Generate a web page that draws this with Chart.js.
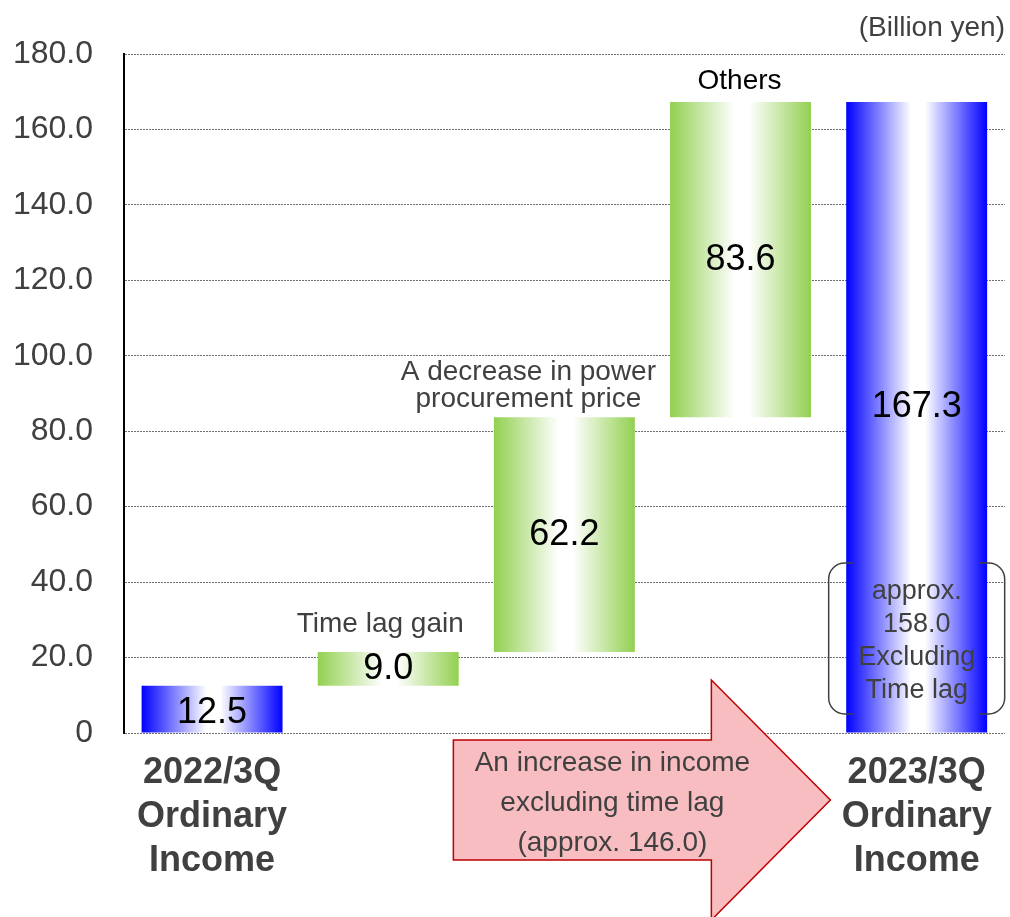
<!DOCTYPE html>
<html>
<head>
<meta charset="utf-8">
<script src="https://cdn.jsdelivr.net/npm/chart.js@4.4.1/dist/chart.umd.min.js"></script>
<style>
  html, body { margin: 0; padding: 0; background: #fff; }
</style>
</head>
<body>
<canvas id="myChart" width="1010" height="917"></canvas>
<script>
const categories = [["2022/3Q", "Ordinary", "Income"], "", "", "", ["2023/3Q", "Ordinary", "Income"]];
const barStarts = [0, 12.5, 21.5, 83.7, 0];
const barEnds = [12.5, 21.5, 83.7, 167.3, 167.3];
const valueLabels = ["12.5", "9.0", "62.2", "83.6", "167.3"];
const barKinds = ["total", "step", "step", "step", "total"];
const stepNotes = [[], ["Time lag gain"], ["A decrease in power", "procurement price"], ["Others"], []];
const bracketLines = ["approx.", "158.0", "Excluding", "Time lag"];
const arrowLines = ["An increase in income", "excluding time lag", "(approx. 146.0)"];
const unitLabel = "(Billion yen)";

const FONT = '"Liberation Sans", Arial, sans-serif';
const TEXT_GREY = "#404040";

function barFill(context) {
  const chart = context.chart;
  const xScale = chart.scales.x;
  const i = context.dataIndex;
  const edge = barKinds[i] === "total" ? "#0000ff" : "#92d050";
  if (!xScale || i === undefined || !chart.chartArea) return edge;
  const cx = xScale.getPixelForValue(i);
  const half = xScale.width / categories.length * 0.8 / 2;
  if (!isFinite(cx) || !isFinite(half)) return edge;
  const g = chart.ctx.createLinearGradient(cx - half, 0, cx + half, 0);
  g.addColorStop(0, edge);
  g.addColorStop(0.46, "#ffffff");
  g.addColorStop(0.56, "#ffffff");
  g.addColorStop(1, edge);
  return g;
}

function drawLines(ctx, lines, x, y0, gap) {
  lines.forEach((t, k) => ctx.fillText(t, x, y0 + k * gap));
}

const extras = {
  id: "extras",
  afterDatasetsDraw(chart) {
    const ctx = chart.ctx;
    const xs = chart.scales.x, ys = chart.scales.y;
    const area = chart.chartArea;
    ctx.save();
    ctx.textAlign = "center";
    ctx.textBaseline = "middle";

    // values inside bars
    ctx.font = "36px " + FONT;
    ctx.fillStyle = "#000";
    valueLabels.forEach((t, i) => {
      let yc = (ys.getPixelForValue(barStarts[i]) + ys.getPixelForValue(barEnds[i])) / 2;
      if (i === 0) yc += 4;
      if (i === 4) yc -= 10;
      ctx.fillText(t, xs.getPixelForValue(i), yc);
    });

    // notes above step bars
    ctx.font = "28px " + FONT;
    const top1 = ys.getPixelForValue(barEnds[1]);
    ctx.fillStyle = TEXT_GREY;
    drawLines(ctx, stepNotes[1], xs.getPixelForValue(1) - 8, top1 - 28, 27);
    const top2 = ys.getPixelForValue(barEnds[2]);
    drawLines(ctx, stepNotes[2], xs.getPixelForValue(2) - 36, top2 - 45, 27);
    const top3 = ys.getPixelForValue(barEnds[3]);
    ctx.fillStyle = "#000";
    drawLines(ctx, stepNotes[3], xs.getPixelForValue(3) - 1, top3 - 21, 27);

    // unit
    ctx.fillStyle = TEXT_GREY;
    ctx.textAlign = "right";
    ctx.fillText(unitLabel, 1005, 28);
    ctx.textAlign = "center";

    // bracket around last bar
    const bx = xs.getPixelForValue(4);
    const zero = ys.getPixelForValue(0);
    const bTop = zero - 170, bBot = zero - 19, r = 16;
    ctx.strokeStyle = TEXT_GREY;
    ctx.lineWidth = 1.5;
    ctx.beginPath();
    ctx.moveTo(bx - 63, bTop);
    ctx.arcTo(bx - 88, bTop, bx - 88, bTop + r, r);
    ctx.arcTo(bx - 88, bBot, bx - 63, bBot, r);
    ctx.lineTo(bx - 63, bBot);
    ctx.moveTo(bx + 63, bTop);
    ctx.arcTo(bx + 88, bTop, bx + 88, bTop + r, r);
    ctx.arcTo(bx + 88, bBot, bx + 63, bBot, r);
    ctx.lineTo(bx + 63, bBot);
    ctx.stroke();
    ctx.font = "27px " + FONT;
    ctx.fillStyle = TEXT_GREY;
    drawLines(ctx, bracketLines, bx, zero - 141, 33);

    // arrow
    const ax = xs.getPixelForValue(2);
    const left = ax - 111, neck = ax + 147, tip = ax + 266;
    const mid = zero + 67;
    ctx.beginPath();
    ctx.moveTo(left, mid - 60);
    ctx.lineTo(neck, mid - 60);
    ctx.lineTo(neck, mid - 120);
    ctx.lineTo(tip, mid);
    ctx.lineTo(neck, mid + 120);
    ctx.lineTo(neck, mid + 60);
    ctx.lineTo(left, mid + 60);
    ctx.closePath();
    ctx.fillStyle = "#f7bdc1";
    ctx.fill();
    ctx.strokeStyle = "#c00000";
    ctx.lineWidth = 1.5;
    ctx.stroke();
    ctx.font = "28px " + FONT;
    ctx.fillStyle = TEXT_GREY;
    drawLines(ctx, arrowLines, ax + 48, zero + 30, 40);

    ctx.restore();
  }
};

const chartData = {
  labels: categories,
  datasets: [
    {
      data: barStarts.map((s, i) => [s, barEnds[i]]),
      backgroundColor: barFill,
      borderWidth: 0,
      categoryPercentage: 0.8,
      barPercentage: 1.0,
    },
  ],
};

const config = {
  type: "bar",
  data: chartData,
  options: {
    responsive: false,
    animation: false,
    layout: { padding: { top: 54, right: 3, left: 0, bottom: 0 } },
    plugins: { legend: { display: false }, tooltip: { enabled: false } },
    scales: {
      x: {
        grid: { display: false, drawTicks: false },
        border: { display: false },
        ticks: {
          padding: 18,
          maxRotation: 0,
          autoSkip: false,
          color: TEXT_GREY,
          font: { family: FONT, size: 36, weight: "bold", lineHeight: 1.22 },
        },
        afterFit(scale) { scale.height = 184; },
      },
      y: {
        min: 0,
        max: 180,
        grid: { color: "#707070", lineWidth: 1, drawTicks: false },
        border: { display: true, color: "#000", width: 2, dash: [2, 1] },
        ticks: {
          stepSize: 20,
          padding: 31,
          color: TEXT_GREY,
          font: { family: FONT, size: 32 },
          callback: (v) => (v === 0 ? "0" : v.toFixed(1)),
        },
        afterFit(scale) { scale.width = 124; },
      },
    },
  },
  plugins: [extras],
};

const myChart = new Chart(document.getElementById("myChart"), config);
</script>
</body>
</html>
